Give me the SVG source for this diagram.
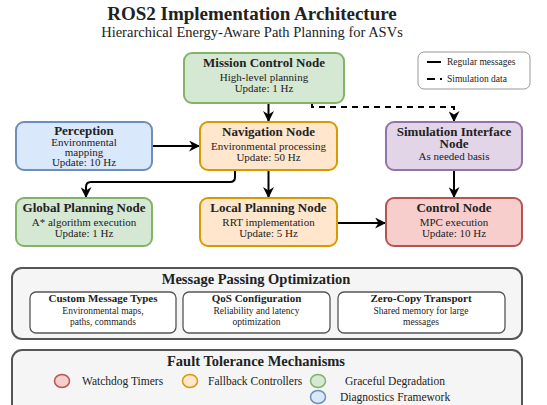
<svg xmlns="http://www.w3.org/2000/svg" width="547" height="405" viewBox="0 0 547 405">
<style>
text{font-family:"Liberation Serif","Times New Roman",serif;fill:#222;text-anchor:middle}
.t{font-size:19px;font-weight:bold}
.st{font-size:14.5px}
.nt{font-size:13px;font-weight:bold}
.nb{font-size:11px}
.gt{font-size:14.5px;font-weight:bold}
.it{font-size:11px;font-weight:bold}
.ib{font-size:9.5px}
.lg{font-size:9.5px;text-anchor:start}
.ft{font-size:11.5px;text-anchor:start}
.green{fill:#d5e8d4;stroke:#82b366;stroke-width:2}
.blue{fill:#dae8fc;stroke:#6c8ebf;stroke-width:2}
.orange{fill:#ffe6cc;stroke:#d79b00;stroke-width:2}
.purple{fill:#e1d5e7;stroke:#9673a6;stroke-width:2}
.red{fill:#f8cecc;stroke:#b85450;stroke-width:2}
.edge{fill:none;stroke:#000;stroke-width:2}
.dash{stroke-dasharray:6,5}
.grp{fill:#f5f5f5;stroke:#555;stroke-width:2}
.inner{fill:#fff;stroke:#555;stroke-width:1.3}
</style>
<defs>
<marker id="ah" viewBox="0 0 10 10" refX="9" refY="5" markerWidth="5.5" markerHeight="5.5" orient="auto" markerUnits="strokeWidth">
<path d="M0,0 L10,5 L0,10 L3,5 z" fill="#000"/>
</marker>
</defs>
<rect width="547" height="405" fill="#fff"/>
<text class="t" x="252" y="20">ROS2 Implementation Architecture</text>
<text class="st" x="252" y="37">Hierarchical Energy-Aware Path Planning for ASVs</text>

<g id="legend">
<rect x="418" y="52" width="112" height="37" rx="6" fill="#fff" stroke="#999" stroke-width="1"/>
<line x1="427" y1="62" x2="441" y2="62" stroke="#000" stroke-width="2"/>
<text class="lg" x="447" y="65">Regular messages</text>
<line x1="427" y1="79" x2="442" y2="79" stroke="#000" stroke-width="2" stroke-dasharray="8,5"/>
<text class="lg" x="447" y="82">Simulation data</text>
</g>

<g id="connectors">
<path class="edge" d="M268.5 103 L268.5 121" marker-end="url(#ah)"/>
<path class="edge dash" d="M312 103 L312 107 L454 107 L454 121" marker-end="url(#ah)"/>
<path class="edge" d="M152 146 L199 146" marker-end="url(#ah)"/>
<path class="edge" d="M268.5 170 L268.5 197" marker-end="url(#ah)"/>
<path class="edge" d="M235 170 L235 177 Q235 182 230 182 L91 182 Q86 182 86 187 L86 197" marker-end="url(#ah)"/>
<path class="edge" d="M337 223 L385 223" marker-end="url(#ah)"/>
<path class="edge" d="M454 170 L454 197" marker-end="url(#ah)"/>
</g>

<g id="mission">
<rect class="green" x="184" y="53" width="160" height="50" rx="8"/>
<text class="nt" x="264" y="67">Mission Control Node</text>
<text class="nb" x="264" y="81">High-level planning</text>
<text class="nb" x="264" y="92">Update: 1 Hz</text>
</g>
<g id="perception">
<rect class="blue" x="16" y="122" width="136" height="48" rx="8"/>
<text class="nt" x="84" y="135">Perception</text>
<text class="nb" x="84" y="145.5">Environmental</text>
<text class="nb" x="84" y="156">mapping</text>
<text class="nb" x="84" y="166">Update: 10 Hz</text>
</g>
<g id="navigation">
<rect class="orange" x="200" y="122" width="137" height="48" rx="8"/>
<text class="nt" x="268.5" y="136">Navigation Node</text>
<text class="nb" x="268.5" y="149.5">Environmental processing</text>
<text class="nb" x="268.5" y="160.5">Update: 50 Hz</text>
</g>
<g id="simulation">
<rect class="purple" x="386" y="122" width="136" height="48" rx="8"/>
<text class="nt" x="454" y="136">Simulation Interface</text>
<text class="nt" x="454" y="148">Node</text>
<text class="nb" x="454" y="159.5">As needed basis</text>
</g>
<g id="global">
<rect class="green" x="16" y="198" width="136" height="48" rx="8"/>
<text class="nt" x="84" y="212">Global Planning Node</text>
<text class="nb" x="84" y="226">A* algorithm execution</text>
<text class="nb" x="84" y="237">Update: 1 Hz</text>
</g>
<g id="local">
<rect class="orange" x="200" y="198" width="137" height="48" rx="8"/>
<text class="nt" x="268.5" y="212">Local Planning Node</text>
<text class="nb" x="268.5" y="226">RRT implementation</text>
<text class="nb" x="268.5" y="237">Update: 5 Hz</text>
</g>
<g id="control">
<rect class="red" x="386" y="198" width="136" height="48" rx="8"/>
<text class="nt" x="454" y="212">Control Node</text>
<text class="nb" x="454" y="226">MPC execution</text>
<text class="nb" x="454" y="237">Update: 10 Hz</text>
</g>

<g id="message-passing">
<rect class="grp" x="12" y="268" width="510" height="71" rx="10"/>
<text class="gt" x="256" y="284">Message Passing Optimization</text>
<g id="custom-msg">
<rect class="inner" x="30" y="292" width="146" height="41" rx="6"/>
<text class="it" x="103" y="302">Custom Message Types</text>
<text class="ib" x="103" y="314">Environmental maps,</text>
<text class="ib" x="103" y="325">paths, commands</text>
</g>
<g id="qos">
<rect class="inner" x="183" y="292" width="147" height="41" rx="6"/>
<text class="it" x="256.5" y="302">QoS Configuration</text>
<text class="ib" x="256.5" y="314">Reliability and latency</text>
<text class="ib" x="256.5" y="325">optimization</text>
</g>
<g id="zero-copy">
<rect class="inner" x="338" y="292" width="167" height="41" rx="6"/>
<text class="it" x="421" y="302">Zero-Copy Transport</text>
<text class="ib" x="421" y="314">Shared memory for large</text>
<text class="ib" x="421" y="325">messages</text>
</g>
</g>

<g id="fault-tolerance">
<rect class="grp" x="12" y="350" width="510" height="72" rx="10"/>
<text class="gt" x="256" y="366">Fault Tolerance Mechanisms</text>
<ellipse cx="62" cy="381" rx="7.5" ry="6.5" fill="#f8cecc" stroke="#b85450" stroke-width="1.5"/>
<text class="ft" x="82" y="385">Watchdog Timers</text>
<ellipse cx="190" cy="381" rx="7.5" ry="6.5" fill="#ffe6cc" stroke="#d79b00" stroke-width="1.5"/>
<text class="ft" x="208" y="385">Fallback Controllers</text>
<ellipse cx="318" cy="381" rx="7.5" ry="6.5" fill="#d5e8d4" stroke="#82b366" stroke-width="1.5"/>
<text class="ft" x="345" y="385">Graceful Degradation</text>
<ellipse cx="318" cy="397" rx="7.5" ry="6.5" fill="#dae8fc" stroke="#6c8ebf" stroke-width="1.5"/>
<text class="ft" x="340" y="401">Diagnostics Framework</text>
</g>
</svg>
